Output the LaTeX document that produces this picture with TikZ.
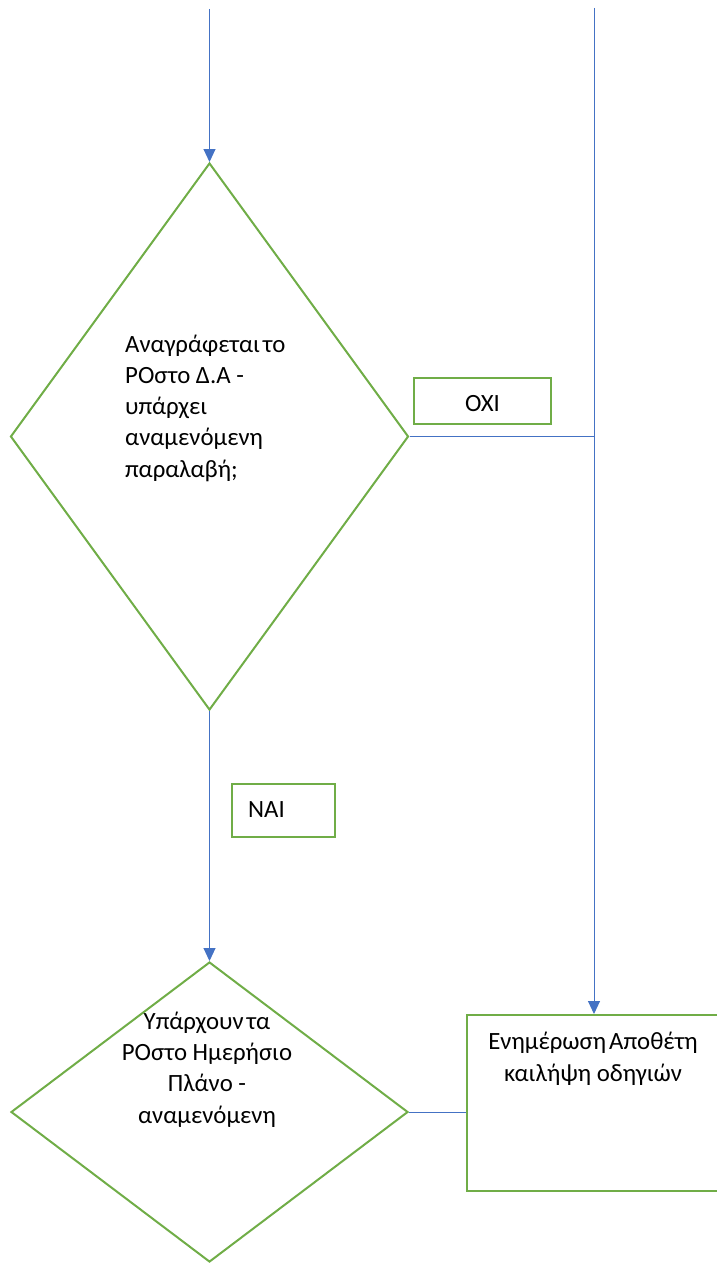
\documentclass[tikz,border=0pt]{standalone}
\usepackage{fontspec}
\setmainfont{Carlito}
\usetikzlibrary{shapes.geometric,arrows.meta}
\definecolor{flowgreen}{HTML}{70AD47}
\definecolor{flowblue}{HTML}{4472C4}
\newcommand{\tightsp}{\hspace{0.12em}}
\begin{document}
\begin{tikzpicture}[x=1pt,y=-1pt,
  decision/.style={diamond, draw=flowgreen, line width=2pt, inner sep=0pt, aspect=1},
  labelbox/.style={rectangle, draw=flowgreen, line width=2pt, inner sep=0pt, fill=white},
  connector/.style={draw=flowblue, line width=1pt},
  arrowline/.style={connector, -{Triangle[width=12pt,length=13pt]}},
  bigtext/.style={font=\fontsize{24.8}{31.2}\selectfont, inner sep=0pt}]
  \useasboundingbox (0,0) rectangle (717,1263);
  \clip (0,0) rectangle (717,1263);

  % shapes
  \node[decision, minimum width=398pt, minimum height=547pt] (d1) at (209.5,436.5) {};
  \node[decision, minimum width=397pt, minimum height=300pt] (d2) at (209.5,1112) {};
  \node[labelbox, minimum width=254pt, minimum height=176pt] (act) at (594,1103) {};
  \node[labelbox, minimum width=137pt, minimum height=46pt] (no) at (482.5,401) {};
  \node[labelbox, minimum width=103pt, minimum height=53pt] (yes) at (283.5,810.5) {};

  % texts (base anchor = baseline of the last line)
  \node[bigtext, align=left, anchor=base west] (t1) at (125,477)
    {Αναγράφεται\tightsp το\\ΡΟστο Δ.Α -\\υπάρχει\\αναμενόμενη\\παραλαβή;};
  \node[bigtext, align=center, anchor=base] (t2) at (207,1123)
    {Υπάρχουν\tightsp τα\\ΡΟστο Ημερήσιο\\Πλάνο -\\αναμενόμενη};
  \node[bigtext, align=center, anchor=base] (t3) at (593,1081)
    {Ενημέρωση\tightsp Αποθέτη\\καιλήψη οδηγιών};
  \node[bigtext, anchor=base] (tno) at (482.5,411) {ΟΧΙ};
  \node[bigtext, anchor=base west] (tyes) at (248,817) {ΝΑΙ};

  % connectors
  \coordinate (in1) at (209.5,9);
  \coordinate (in2) at (594,8);
  \coordinate (join) at (594,436.5);
  \draw[arrowline] (in1) -- (d1.north);
  \draw[arrowline] (in2) -- (act.north);
  \draw[connector] (d1.east) -- (join);
  \draw[arrowline] (d1.south) -- (d2.north);
  \draw[connector] (d2.east) -- (d2.east -| act.west);
\end{tikzpicture}
\end{document}
